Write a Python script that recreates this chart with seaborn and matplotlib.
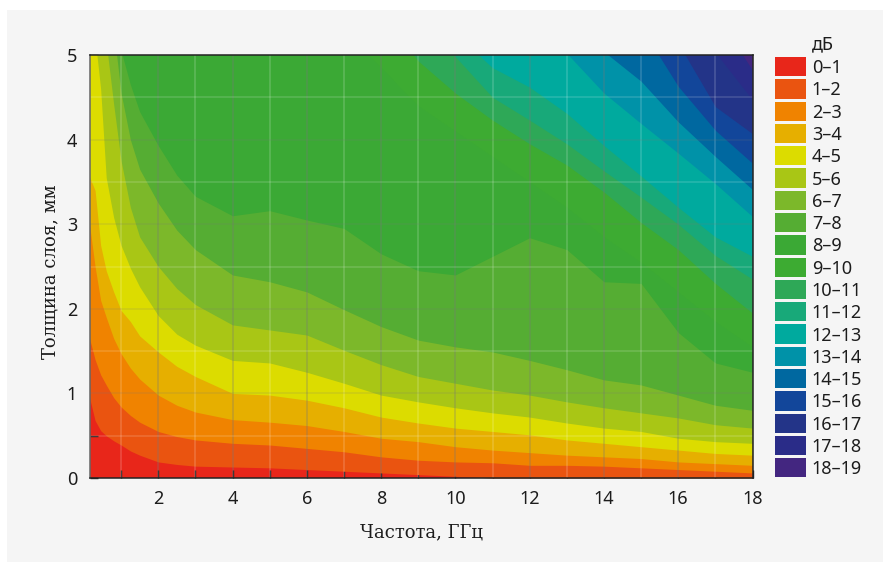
import numpy as np
import pandas as pd
import matplotlib.pyplot as plt
import seaborn as sns
from matplotlib.colors import ListedColormap
from matplotlib.patches import Rectangle

# frequency nodes, GHz
freq = [0.15, 0.3, 0.45, 0.6, 0.8, 1, 1.25, 1.5, 2, 2.5, 3, 4, 5, 6, 7, 8, 9, 10, 11, 12, 13, 14, 15, 16, 17, 18]

# layer thickness (mm) where the attenuation reaches 1, 2, ... 18 dB, values above 5 are off the chart
edge_1 = [.95, .68, .56, .5, .44, .39, .32, .27, .19, .16, .14, .13, .12, .10, .08, .06, .04, .02, 0, 0, 0, 0, 0, 0, 0, 0]
edge_2 = [1.65, 1.4, 1.22, 1.1, .95, .84, .74, .66, .55, .49, .45, .41, .39, .35, .31, .25, .21, .19, .18, .15, .15, .14, .12, .10, .08, .06]
edge_3 = [3.0, 2.5, 2.1, 1.9, 1.65, 1.47, 1.3, 1.17, .98, .86, .78, .69, .66, .62, .55, .47, .43, .37, .33, .30, .27, .25, .23, .19, .17, .15]
edge_4 = [3.56, 3.4, 2.75, 2.45, 2.2, 1.98, 1.85, 1.68, 1.49, 1.32, 1.2, 1.0, .98, .92, .83, .72, .65, .59, .55, .51, .45, .41, .37, .33, .29, .27]
edge_5 = [5.3, 5.2, 4.6, 3.55, 3.08, 2.75, 2.48, 2.26, 1.92, 1.7, 1.57, 1.39, 1.36, 1.25, 1.12, .98, .9, .83, .77, .72, .65, .59, .55, .47, .43, .41]
edge_6 = [5.4, 5.35, 5.3, 5.15, 4.42, 3.75, 3.2, 2.85, 2.5, 2.24, 2.05, 1.81, 1.75, 1.69, 1.51, 1.34, 1.2, 1.12, 1.04, .98, .9, .83, .77, .71, .63, .59]
edge_7 = [5.6, 5.55, 5.5, 5.45, 5.3, 4.55, 4.0, 3.65, 3.25, 2.93, 2.7, 2.4, 2.32, 2.2, 1.99, 1.79, 1.63, 1.55, 1.49, 1.39, 1.28, 1.16, 1.1, .98, .86, .8]
edge_8 = [5.7, 5.65, 5.6, 5.55, 5.5, 5.05, 4.65, 4.33, 3.93, 3.58, 3.33, 3.1, 3.16, 3.05, 2.95, 2.65, 2.45, 2.4, 2.62, 2.84, 2.7, 2.32, 2.3, 1.72, 1.36, 1.25]
edge_9 = [6] * 13 + [5.6, 5.3, 4.85, 4.4, 4.1, 3.8, 3.5, 3.2, 2.85, 2.55, 2.2, 1.85, 1.55]
edge_10 = [6] * 15 + [5.5, 4.93, 4.55, 4.23, 3.95, 3.7, 3.38, 3.02, 2.7, 2.3, 1.95]
edge_11 = [6] * 16 + [5.4, 4.98, 4.5, 4.23, 3.95, 3.63, 3.32, 3.0, 2.63, 2.35]
edge_12 = [6] * 16 + [5.6, 5.25, 4.85, 4.62, 4.31, 3.93, 3.57, 3.2, 2.85, 2.62]
edge_13 = [6] * 19 + [5.4, 5.02, 4.55, 4.19, 3.84, 3.48, 3.09]
edge_14 = [6] * 20 + [5.5, 5.04, 4.69, 4.21, 3.8, 3.41]
edge_15 = [6] * 21 + [5.7, 5.33, 4.63, 4.11, 3.72]
edge_16 = [6] * 22 + [5.6, 5.14, 4.39, 4.07]
edge_17 = [6] * 23 + [5.6, 5.03, 4.47]
edge_18 = [6] * 24 + [5.5, 4.82]

band_labels = ['0–1', '1–2', '2–3', '3–4', '4–5', '5–6', '6–7', '7–8', '8–9', '9–10', '10–11',
               '11–12', '12–13', '13–14', '14–15', '15–16', '16–17', '17–18', '18–19']
band_colors = ['#e8261a', '#ea5410', '#f08300', '#e6af00', '#dcdc00', '#a9c615', '#7cb82a', '#55ad33',
               '#3ba935', '#3dab32', '#2ea857', '#18a979', '#00aa9e', '#0092a8', '#0068a0', '#12469a',
               '#233488', '#2a2c88', '#432680']

x_ticks = list(range(1, 19))
y_ticks = [0, 0.5, 1, 1.5, 2, 2.5, 3, 3.5, 4, 4.5, 5]

edges = [edge_1, edge_2, edge_3, edge_4, edge_5, edge_6, edge_7, edge_8, edge_9,
         edge_10, edge_11, edge_12, edge_13, edge_14, edge_15, edge_16, edge_17, edge_18]
df = pd.DataFrame({f'db{i + 1}': e for i, e in enumerate(edges)}, index=freq)

W, H = 891, 562
sns.set_theme(style='ticks')
plt.rcParams['font.family'] = ['DejaVu Serif']
text_color = '#1c1c1c'
panel = '#f5f5f5'

fig = plt.figure(figsize=(W / 100, H / 100), dpi=100, facecolor='white')
fig.add_artist(Rectangle((7 / W, 0), 876 / W, 1 - 10 / H, transform=fig.transFigure, color=panel, lw=0, zorder=-1))


def pixel_axes(left, top, right, bottom):
    return fig.add_axes([left / W, 1 - bottom / H, (right - left) / W, (bottom - top) / H])


ax = pixel_axes(89.5, 55, 752.5, 478)
palette = sns.color_palette(band_colors)
ax.set_facecolor(palette[0])
for i, col in enumerate(df.columns):
    ax.fill_between(df.index, df[col], 6, color=palette[i + 1], lw=0, zorder=1)

ax.set_xlim(0.15, 18)
ax.set_ylim(0, 5)
ax.set_xticks(x_ticks)
ax.set_xticklabels([str(v) if v % 2 == 0 else '' for v in x_ticks])
ax.set_yticks(y_ticks)
ax.set_yticklabels([str(int(v)) if v == int(v) else '' for v in y_ticks])

# faint grid over the colour bands, darker on the labelled values
for v in x_ticks:
    if v % 2 == 0:
        ax.axvline(v, color='#777777', alpha=.3, lw=1.3, zorder=2)
    else:
        ax.axvline(v, color='white', alpha=.16, lw=1.3, zorder=2)
for v in y_ticks[1:-1]:
    if v == int(v):
        ax.axhline(v, color='#777777', alpha=.18, lw=1.1, zorder=2)
    else:
        ax.axhline(v, color='white', alpha=.16, lw=1.1, zorder=2)

ax.tick_params(direction='in', length=6, width=1, color='#222222', labelsize=13, labelcolor=text_color, pad=9)
ax.set_xlabel('Частота, ГГц', fontsize=13, color=text_color, labelpad=11)
ax.set_ylabel('Толщина слоя, мм', fontsize=13, color=text_color, labelpad=5, y=0.487)
for s in ax.spines.values():
    s.set_visible(True)
    s.set_color('#222222')
    s.set_linewidth(1.1)
ax.spines['left'].set_color('#666666')
for tick in ax.get_xticklabels() + ax.get_yticklabels():
    tick.set_fontfamily('Noto Sans')

# band key
key_ax = pixel_axes(773, 55, 807, 478.5)
sns.heatmap(np.arange(len(band_labels)).reshape(-1, 1), ax=key_ax, cmap=ListedColormap(band_colors),
            cbar=False, linewidths=1, linecolor=panel, xticklabels=False, yticklabels=band_labels)
key_ax.yaxis.tick_right()
key_ax.tick_params(axis='y', length=0, labelsize=13, labelcolor=text_color, labelrotation=0, pad=3.5)
for tick in key_ax.get_yticklabels():
    tick.set_fontfamily('Noto Sans')
key_ax.text(1.14, 1.005, 'дБ', transform=key_ax.transAxes, fontsize=13, color=text_color, family='Noto Sans',
            ha='left', va='bottom')

fig.savefig('out.png', dpi=100, facecolor=fig.get_facecolor())
